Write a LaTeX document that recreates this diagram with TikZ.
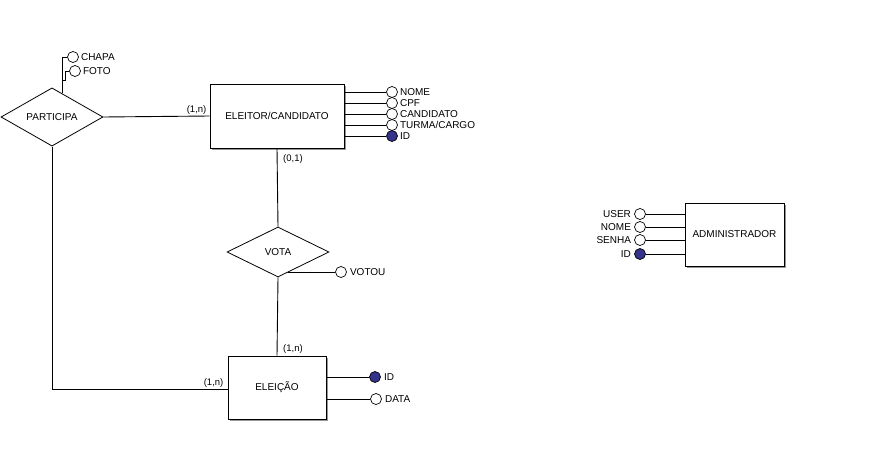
\documentclass[tikz,border=0pt]{standalone}
\usepackage{fontspec}
\setmainfont{Liberation Sans}
\usetikzlibrary{shapes.geometric,calc,shadows}
\definecolor{keyblue}{RGB}{52,52,140}
\definecolor{shadowgray}{RGB}{150,150,150}
\begin{document}
\begin{tikzpicture}[x=1pt,y=-1pt,
  every node/.style={font=\fontsize{10}{12}\selectfont, inner sep=0pt},
  entity/.style={draw, fill=white, line width=0.9pt, rectangle,
    drop shadow={shadow xshift=1.6pt, shadow yshift=-1.6pt, fill=shadowgray, opacity=1}},
  rel/.style={draw, fill=white, line width=0.8pt, diamond, minimum width=102pt, minimum height=50pt},
  attr/.style={draw, fill=white, line width=0.7pt, circle, minimum size=11pt},
  keyattr/.style={attr, fill=keyblue},
  conn/.style={line width=0.9pt},
  lbl/.style={font=\fontsize{9.5}{11}\selectfont}
]
\useasboundingbox (0,0) rectangle (888,460);
% relationships
\node[rel] (part) at (52,117) {PARTICIPA};
\node[rel] (vota) at (278,252) {VOTA};
% entities
\node[entity, minimum width=134pt, minimum height=64pt] (eleitor) at (277,116) {ELEITOR/CANDIDATO};
\node[entity, minimum width=98pt, minimum height=63pt] (eleicao) at (277,387.5) {ELEIÇÃO};
\node[entity, minimum width=99pt, minimum height=63pt] (admin) at (734.5,234.5) {ADMINISTRADOR};
% connectors between entities and relationships
\draw[conn] (part.east) -- (eleitor.west);
\draw[conn] (eleitor.south) -- (vota.north);
\draw[conn] (vota.south) -- (eleicao.north);
\coordinate (corner) at (52,389);
\draw[conn] (part.south) -- (corner) -- (corner -| eleicao.west);
% cardinalities
\node[lbl, anchor=south east] (c1) at ([xshift=-3pt,yshift=1.5pt]eleitor.west) {(1,n)};
\node[lbl, anchor=north west] (c2) at ([xshift=6pt,yshift=-6pt]eleitor.south) {(0,1)};
\node[lbl, anchor=south west] (c3) at ([xshift=6pt,yshift=1.5pt]eleicao.north) {(1,n)};
\node[lbl, anchor=south east] (c4) at ([xshift=-4pt,yshift=1.5pt]corner -| eleicao.west) {(1,n)};
% ELEITOR attributes
\node[attr] (nome) at (392,92) {};
\node[attr] (cpf) at (392,103) {};
\node[attr] (cand) at (392,114) {};
\node[attr] (turma) at (392,125) {};
\node[keyattr] (eid) at (392,136) {};
\foreach \a/\t in {nome/NOME, cpf/CPF, cand/CANDIDATO, turma/{TURMA/CARGO}, eid/ID}{
  \draw[conn] (eleitor.east |- \a) -- (\a.west);
  \node[anchor=west] (\a-t) at ([xshift=2pt]\a.east) {\t};
}
% PARTICIPA attributes
\node[attr] (chapa) at (73,57) {};
\node[attr] (foto) at (75,71) {};
\node[anchor=west] (chapa-t) at ([xshift=2pt]chapa.east) {CHAPA};
\node[anchor=west] (foto-t) at ([xshift=2pt]foto.east) {FOTO};
\coordinate (pe) at ($(part.north)!0.2!(part.east)$);
\coordinate (pj) at (pe |- 0,80);
\coordinate (pk) at (65,80);
\draw[conn] (pe) -- (pj) -- (pj |- chapa) -- (chapa.west);
\draw[conn] (pj) -- (pk) |- (foto.west);
% VOTA attribute
\node[attr] (votou) at (341,272) {};
\node[anchor=west] (votou-t) at ([xshift=3pt]votou.east) {VOTOU};
\coordinate (ve) at ($(vota.south)!0.2!(vota.east)$);
\draw[conn] (ve) -- (ve -| votou.west);
% ELEICAO attributes
\node[keyattr] (lid) at (375,377) {};
\node[attr] (data) at (376,399) {};
\node[anchor=west] (lid-t) at ([xshift=3pt]lid.east) {ID};
\node[anchor=west] (data-t) at ([xshift=3pt]data.east) {DATA};
\draw[conn] (eleicao.east |- lid) -- (lid.west);
\draw[conn] (eleicao.east |- data) -- (data.west);
% ADMIN attributes
\node[attr] (user) at (640,214) {};
\node[attr] (anome) at (640,227) {};
\node[attr] (senha) at (640,240) {};
\node[keyattr] (aid) at (640,254) {};
\foreach \a/\t in {user/USER, anome/NOME, senha/SENHA, aid/ID}{
  \draw[conn] (\a.east) -- (admin.west |- \a);
  \node[anchor=east] (\a-t) at ([xshift=-3pt]\a.west) {\t};
}
\end{tikzpicture}
\end{document}
